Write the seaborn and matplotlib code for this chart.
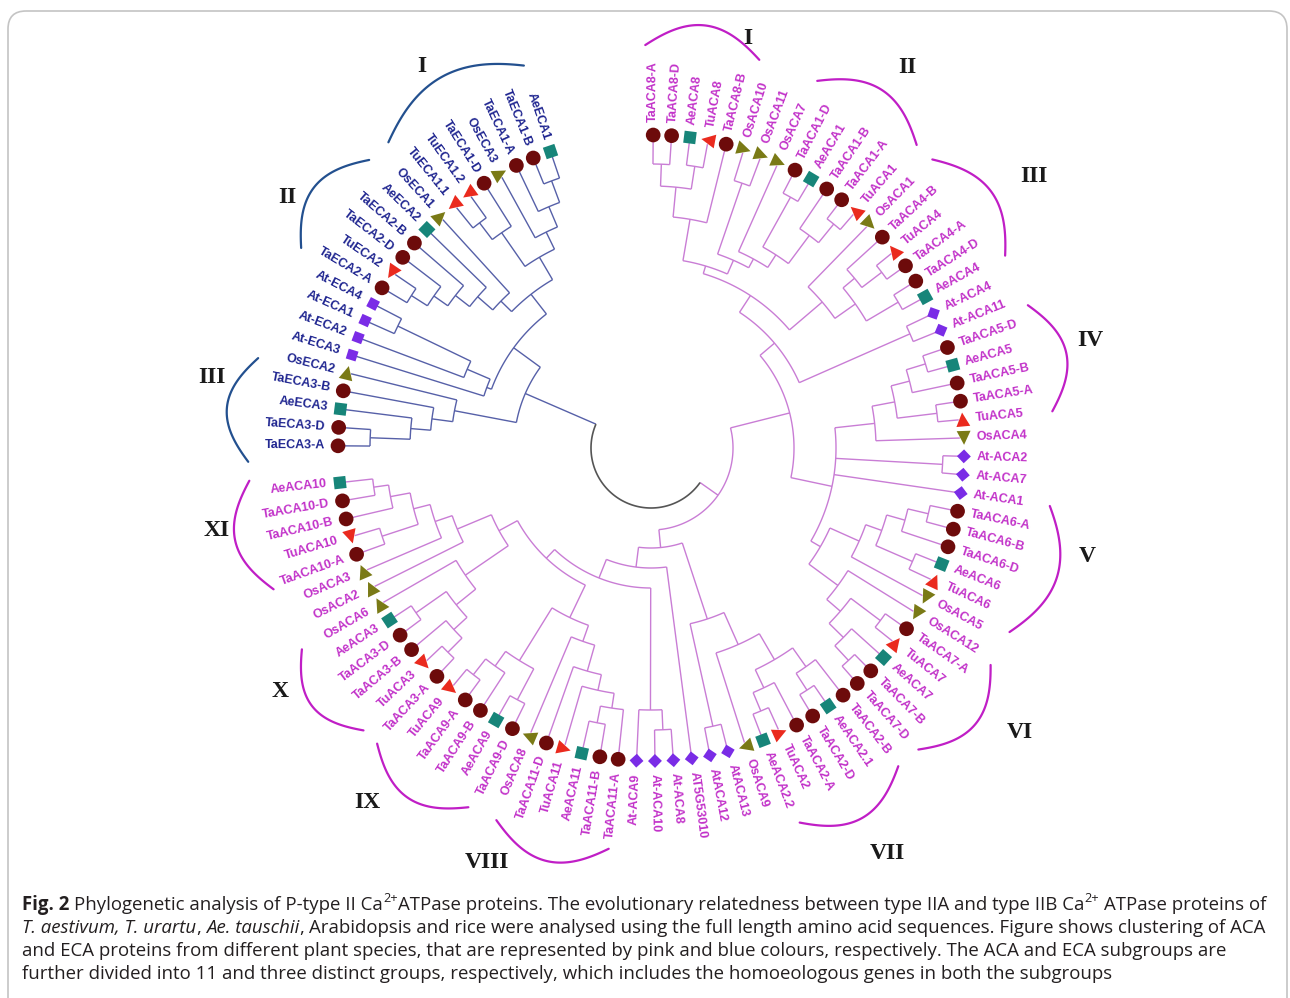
import numpy as np
import pandas as pd
import matplotlib
matplotlib.use("Agg")
import matplotlib.pyplot as plt
import seaborn as sns
from matplotlib.markers import MarkerStyle
from matplotlib.transforms import Affine2D
from matplotlib.patches import FancyBboxPatch
from matplotlib.collections import LineCollection

# ------------------------------------------------------------------ data
# tree topology (Newick); number after ")" = node depth (distance from centre)
aca_I = "(((TaACA8-A,TaACA8-D)284,(AeACA8,TuACA8)285)262,TaACA8-B)232"
aca_II = "(OsACA7,((TaACA1-D,AeACA1)287,(TaACA1-B,(TaACA1-A,TuACA1)289)265)230)215"
aca_III = "(OsACA1,((TaACA4-B,(TuACA4,TaACA4-A)290)265,(TaACA4-D,AeACA4)287)250)225"
aca_IV = "(((TaACA5-D,AeACA5)287,TaACA5-B)267,(TaACA5-A,TuACA5)288)248"
aca_V = "((((TaACA6-A,TaACA6-B)285,TaACA6-D)264,(AeACA6,TuACA6)285)245,OsACA5)228"
aca_VI = "(OsACA12,((TaACA7-A,TuACA7)287,(AeACA7,(TaACA7-B,TaACA7-D)290)270)250)232"
aca_VII = "((TaACA2-B,(AeACA2.1,TaACA2-D)288)268,(TaACA2-A,(TuACA2,AeACA2.2)285)265)245"
aca_VIII = "((((TaACA11-A,(TaACA11-B,AeACA11)280)263,TuACA11)248,TaACA11-D)232,OsACA8)205"
aca_IX = "((TaACA9-D,AeACA9)285,(TaACA9-B,(TaACA9-A,TuACA9)288)268)250"
aca_X = "(((TaACA3-A,TuACA3)288,TaACA3-B)268,(TaACA3-D,AeACA3)287)250"
aca_XI = "((TaACA10-A,TuACA10)283,(TaACA10-B,(TaACA10-D,AeACA10)280)265)245"
aca_at_a = "(At-ACA4,At-ACA11)283"
aca_at_b = "(At-ACA2,At-ACA7)292"
aca_at_c = "((At-ACA8,At-ACA10)282,At-ACA9)262"
aca_at_d = "(AtACA13,AtACA12)285"

eca_I = "(((TuECA1.1,TuECA1.2)283,TaECA1-D)262,(OsECA3,(TaECA1-A,(TaECA1-B,AeECA1)285)262)240)221"
eca_II = "(((((TaECA2-A,TuECA2)284,TaECA2-D)265,TaECA2-B)248,AeECA2)230,OsECA1)210"
eca_III = "((((TaECA3-A,TaECA3-D)281,AeECA3)241,TaECA3-B)221,OsECA2)200"
eca_at = "(At-ECA3,(At-ECA2,(At-ECA1,At-ECA4)281)200)175"

# composition of the clades
aca_top = f"((({aca_I},((OsACA10,OsACA11)280,{aca_II})205)190,{aca_III})182,{aca_at_a})162"
aca_mid = f"(({aca_IV},OsACA4)225,{aca_at_b},At-ACA1,({aca_V},{aca_VI})196)185"
aca_left = (f"({aca_at_c},(({aca_VIII},{aca_IX})188,(({aca_X},OsACA6)225,"
            f"(OsACA2,(OsACA3,{aca_XI})228)210)173)152)140")
aca_bottom = f"((({aca_VII},OsACA9)215,{aca_at_d})180,(AT5G53010,{aca_left})120)100"
aca_tree = f"(({aca_top},{aca_mid})143,{aca_bottom})82"
eca_tree = f"({eca_III},({eca_at},({eca_II},{eca_I})195)170)137"
root_depth = 60

# groups (roman numeral, clade)
aca_groups = ["I", "II", "III", "IV", "V", "VI", "VII", "VIII", "IX", "X", "XI"]
eca_groups = ["I", "II", "III"]

caption_lines = [
    [("Fig. 2", "b"), (" ", "g"), ("Phylogenetic analysis of P-type II Ca", "r"), ("2+", "s"),
     ("ATPase proteins. The evolutionary relatedness between type IIA and type IIB Ca", "r"),
     ("2+", "s"), (" ", "g"), ("ATPase proteins of", "r")],
    [("T. aestivum, T. urartu", "i"), (",", "r"), (" ", "g"), ("Ae. tauschii", "i"), (",", "r"),
     (" ", "g"),
     ("Arabidopsis and rice were analysed using the full length amino acid sequences. Figure shows clustering of ACA", "r")],
    [("and ECA proteins from different plant species, that are represented by pink and blue colours, respectively. The ACA and ECA subgroups are", "r")],
    [("further divided into 11 and three distinct groups, respectively, which includes the homoeologous genes in both the subgroups", "r")],
]

# ------------------------------------------------------------------ layout / style
W, H = 1290, 998
CX, CY = 651, 448
STEP, B0 = 3.375, 0.4
ECA_SLOT0 = 80
R_LEAF, R_LINE_END, R_LABEL = 313, 309, 326

# bracket extents in leaf slots, numeral (bearing, radius)
aca_bracket_slots = [(-0.36, 4.5), (7.1, 12.1), (13.0, 18.1), (20.4, 25.0), (29.0, 34.6),
                     (36.2, 40.9), (42.0, 46.8), (55.0, 59.9), (61.2, 65.9), (66.7, 71.0),
                     (73.8, 78.5)]
eca_bracket_slots = [(94.5, 101.1), (88.7, 93.4), (79.3, 83.7)]
aca_numeral_pos = [(13.3, 421), (33.9, 459), (54.7, 469), (76.2, 452), (104.0, 450),
                   (127.7, 466), (149.8, 469), (201.6, 446), (218.7, 454), (236.7, 444),
                   (259.3, 442)]
eca_numeral_pos = [(329.0, 445), (304.6, 442), (279.1, 445)]

ACA_LINE, ECA_LINE, ROOT_LINE = "#c97dd5", "#5660a8", "#555555"
ACA_TXT, ECA_TXT = "#c232c9", "#1f2590"
ACA_BR, ECA_BR = "#c01ec6", "#23508f"
pal = {"Ta": "#6d0b0b", "Ae": "#178579", "Tu": "#ea2a1e", "Os": "#7a7a16", "At": "#7a2ce6"}
size_map = {"Ta": 112, "Ae": 76, "Tu": 100, "Os": 100, "AtD": 50, "AtS": 54}

sns.set_theme(style="white")
plt.rcParams["font.family"] = ["Liberation Sans", "DejaVu Sans"]


def parse(s):
    pos = 0

    def node():
        nonlocal pos
        if s[pos] == "(":
            pos += 1
            kids = [node()]
            while s[pos] == ",":
                pos += 1
                kids.append(node())
            pos += 1  # ')'
            st = pos
            while pos < len(s) and (s[pos].isdigit() or s[pos] == "."):
                pos += 1
            return {"children": kids, "r": float(s[st:pos])}
        st = pos
        while pos < len(s) and s[pos] not in ",()":
            pos += 1
        return {"name": s[st:pos]}
    return node()


def leaves(n):
    if "children" not in n:
        return [n]
    out = []
    for c in n["children"]:
        out += leaves(c)
    return out


def set_angle(n):
    if "children" not in n:
        n["ang"] = B0 + n["slot"] * STEP
        return
    for c in n["children"]:
        set_angle(c)
    n["ang"] = 0.5 * (n["children"][0]["ang"] + n["children"][-1]["ang"])


def xy(b, r):
    b = np.radians(b)
    return CX + r * np.sin(b), CY - r * np.cos(b)


def arc(b1, b2, r):
    bb = np.linspace(b1, b2, max(2, int(abs(b2 - b1) / 0.4) + 2))
    x, y = xy(bb, r)
    return np.column_stack([x, y])


def collect(n, segs):
    if "children" not in n:
        return
    kids = n["children"]
    segs.append(arc(kids[0]["ang"], kids[-1]["ang"], n["r"]))
    for c in kids:
        r2 = c["r"] if "children" in c else R_LINE_END
        segs.append(np.array([xy(c["ang"], n["r"]), xy(c["ang"], r2)]))
        collect(c, segs)


aca = parse(aca_tree)
eca = parse(eca_tree)
aca_leaves = leaves(aca)
eca_leaves = leaves(eca)
for i, n in enumerate(aca_leaves):
    n["slot"] = i
    n["clade"] = "ACA"
for j, n in enumerate(eca_leaves):
    n["slot"] = ECA_SLOT0 + j
    n["clade"] = "ECA"
set_angle(aca)
set_angle(eca)

fig = plt.figure(figsize=(W / 100, H / 100), dpi=100)
ax = fig.add_axes([0, 0, 1, 1])

# frame
ax.add_patch(FancyBboxPatch((8, 11), 1279, 1100, boxstyle="round,pad=0,rounding_size=18",
                            ec="#c4c4c4", fc="none", lw=1.2, clip_on=False))

# tree lines
aca_segs, eca_segs = [], []
collect(aca, aca_segs)
collect(eca, eca_segs)
aca_segs.append(np.array([xy(aca["ang"], root_depth), xy(aca["ang"], aca["r"])]))
eca_segs.append(np.array([xy(eca["ang"], root_depth), xy(eca["ang"], eca["r"])]))
ax.add_collection(LineCollection(aca_segs, colors=ACA_LINE, linewidths=1.0, zorder=1))
ax.add_collection(LineCollection(eca_segs, colors=ECA_LINE, linewidths=1.0, zorder=1))
ax.add_collection(LineCollection([arc(aca["ang"], eca["ang"], root_depth)],
                                 colors=ROOT_LINE, linewidths=1.2, zorder=1))

# leaf markers
rows, markers = [], {}
for n in aca_leaves + eca_leaves:
    b = n["ang"]
    sp = "At" if n["name"][:2].lower() == "at" else n["name"][:2]
    th = 90 - b
    rot = Affine2D().rotate_deg(th)
    if sp == "Ta":
        m, key = MarkerStyle("o"), "Ta"
    elif sp == "Ae":
        m, key = MarkerStyle("s", transform=rot), "Ae"
    elif sp == "Tu":
        m, key = MarkerStyle("^", transform=rot), "Tu"
    elif sp == "Os":
        m, key = MarkerStyle("v", transform=rot), "Os"
    elif n["clade"] == "ACA":
        m, key = MarkerStyle("D", transform=rot), "AtD"
    else:
        m, key = MarkerStyle("s", transform=rot), "AtS"
    markers[n["name"]] = m
    x, y = xy(b, R_LEAF)
    rows.append(dict(x=x, y=y, name=n["name"], sp=sp, mk=key))
df = pd.DataFrame(rows)
sns.scatterplot(data=df, x="x", y="y", hue="sp", palette=pal, style="name", markers=markers,
                size="mk", sizes=size_map, linewidth=0, legend=False, ax=ax, zorder=3)

# leaf labels
for n in aca_leaves + eca_leaves:
    b = n["ang"]
    x, y = xy(b, R_LABEL)
    if b < 180:
        rot, ha = 90 - b, "left"
    else:
        rot, ha = 270 - b, "right"
    ax.text(x, y, n["name"], rotation=rot, rotation_mode="anchor", ha=ha, va="center",
            fontsize=9, fontweight="bold",
            color=ACA_TXT if n["clade"] == "ACA" else ECA_TXT, zorder=4)

# group brackets and numerals
def bracket(s1, s2, color):
    b1, b2 = B0 + s1 * STEP, B0 + s2 * STEP
    t = np.linspace(0, 1, 60)
    bb = b1 + (b2 - b1) * t
    rr = 403 + 23 * np.sin(np.pi * t)
    x, y = xy(bb, rr)
    ax.plot(x, y, color=color, lw=1.6, solid_capstyle="round", zorder=2)


for name, (s1, s2), (nb, nr) in zip(aca_groups, aca_bracket_slots, aca_numeral_pos):
    bracket(s1, s2, ACA_BR)
    x, y = xy(nb, nr)
    ax.text(x, y, name, ha="center", va="center", fontsize=17, fontweight="bold",
            family="Liberation Serif", color="#1a1a1a")
for name, (s1, s2), (nb, nr) in zip(eca_groups, eca_bracket_slots, eca_numeral_pos):
    bracket(s1, s2, ECA_BR)
    x, y = xy(nb, nr)
    ax.text(x, y, name, ha="center", va="center", fontsize=17, fontweight="bold",
            family="Liberation Serif", color="#1a1a1a")

# caption
renderer = fig.canvas.get_renderer()
CAP_COLOR = "#231f20"


def make_text(x, y, s, kind, fs):
    kw = dict(family=["Open Sans", "DejaVu Sans"], color=CAP_COLOR, va="baseline", ha="left")
    size = fs
    if kind == "b":
        kw["fontweight"] = "bold"
    elif kind == "i":
        kw["fontstyle"] = "italic"
    elif kind == "s":
        size = fs * 0.68
        y = y - fs * 100 / 72 * 0.42
    return ax.text(x, y, s, fontsize=size, **kw)


def line_width(pieces, fs, draw_x=None, draw_y=None):
    probe1 = make_text(0, -500, "x x", "r", fs)
    probe2 = make_text(0, -500, "xx", "r", fs)
    gap = probe1.get_window_extent(renderer).width - probe2.get_window_extent(renderer).width
    probe1.remove()
    probe2.remove()
    x = 0 if draw_x is None else draw_x
    for s, k in pieces:
        if k == "g":
            x += gap
            continue
        t = make_text(x, -500 if draw_y is None else draw_y, s, k, fs)
        w = t.get_window_extent(renderer).width
        if draw_y is None:
            t.remove()
        x += w
    return x - (0 if draw_x is None else draw_x)


fs = 12.0
fs = fs * 1241.0 / line_width(caption_lines[0], fs)
for i, pieces in enumerate(caption_lines):
    line_width(pieces, fs, draw_x=22, draw_y=910 + 23 * i)

ax.set_xlim(0, W)
ax.set_ylim(H, 0)
ax.set_axis_off()
fig.savefig("out.png", dpi=100)
